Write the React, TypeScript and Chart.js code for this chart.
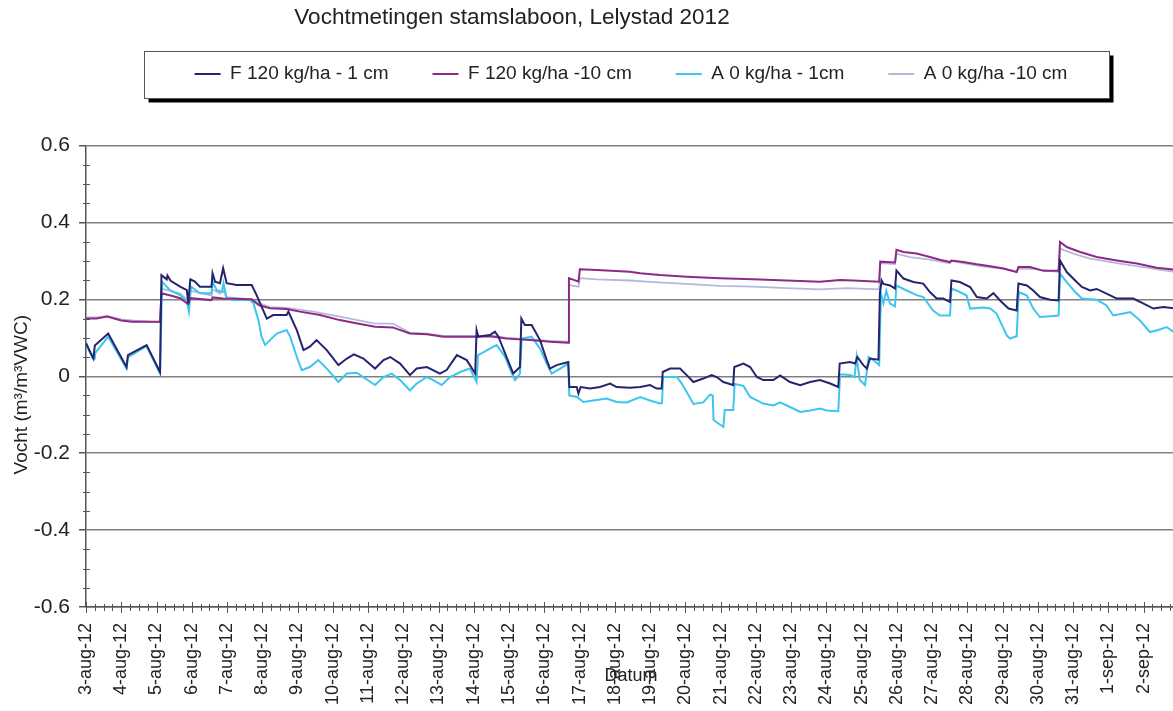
import React, { useEffect, useRef } from 'react';
import { Chart, registerables } from 'chart.js';

Chart.register(...registerables);

const FONT = "'Liberation Sans', Arial, sans-serif";

const chartTitle = 'Vochtmetingen stamslaboon, Lelystad 2012';
// trailing spaces shift the centred axis title towards the bottom, as in the original
const yTitle = 'Vocht (m\u00b3/m\u00b3VWC)\u00a0\u00a0\u00a0\u00a0\u00a0\u00a0\u00a0';
const xTitle = 'Datum';

const dateLabels = [
  '3-aug-12', '4-aug-12', '5-aug-12', '6-aug-12', '7-aug-12', '8-aug-12', '9-aug-12',
  '10-aug-12', '11-aug-12', '12-aug-12', '13-aug-12', '14-aug-12', '15-aug-12', '16-aug-12',
  '17-aug-12', '18-aug-12', '19-aug-12', '20-aug-12', '21-aug-12', '22-aug-12', '23-aug-12',
  '24-aug-12', '25-aug-12', '26-aug-12', '27-aug-12', '28-aug-12', '29-aug-12', '30-aug-12',
  '31-aug-12', '1-sep-12', '2-sep-12',
];

const seriesNames = ['F 120 kg/ha - 1 cm', 'F 120 kg/ha -10 cm', 'A 0 kg/ha - 1cm', 'A 0 kg/ha -10 cm'];
const seriesColors = ['#25256f', '#8e2a85', '#3cc6ee', '#b6b8da'];

// [day since 3-aug, value]
const f120_1cm = [
  [0, 0.085], [0.21, 0.046], [0.25, 0.080], [0.63, 0.111], [1.15, 0.024], [1.19, 0.055], [1.72, 0.081],
  [2.10, 0.011], [2.14, 0.263], [2.29, 0.252], [2.31, 0.262], [2.40, 0.248], [2.67, 0.233], [2.86, 0.224],
  [2.90, 0.190], [2.96, 0.252], [3.09, 0.246], [3.23, 0.233], [3.56, 0.233], [3.59, 0.268], [3.66, 0.246],
  [3.80, 0.242], [3.89, 0.281], [3.99, 0.242], [4.27, 0.237], [4.70, 0.237], [4.84, 0.211], [4.98, 0.181],
  [5.13, 0.150], [5.31, 0.159], [5.69, 0.159], [5.74, 0.168], [5.98, 0.120], [6.17, 0.068], [6.35, 0.077],
  [6.54, 0.094], [6.83, 0.068], [7.16, 0.029], [7.40, 0.046], [7.60, 0.057], [7.87, 0.046], [8.20, 0.020],
  [8.44, 0.042], [8.63, 0.050], [8.91, 0.033], [9.19, 0.003], [9.38, 0.020], [9.67, 0.024], [10.04, 0.007],
  [10.23, 0.016], [10.52, 0.055], [10.80, 0.042], [11.04, 0.007], [11.08, 0.120], [11.13, 0.103],
  [11.46, 0.107], [11.60, 0.116], [11.70, 0.103], [11.93, 0.050], [12.12, 0.007], [12.31, 0.024],
  [12.35, 0.150], [12.45, 0.133], [12.64, 0.133], [12.88, 0.094], [13.07, 0.042], [13.16, 0.020],
  [13.35, 0.029], [13.68, 0.037], [13.71, -0.028], [13.92, -0.028], [13.97, -0.045], [14.03, -0.028],
  [14.30, -0.032], [14.58, -0.028], [14.87, -0.019], [15.05, -0.028], [15.43, -0.030], [15.72, -0.028],
  [16.00, -0.023], [16.19, -0.032], [16.33, -0.032], [16.36, 0.011], [16.57, 0.020], [16.85, 0.020],
  [17.04, 0.003], [17.23, -0.015], [17.51, -0.006], [17.75, 0.003], [17.89, -0.002], [18.08, -0.015],
  [18.22, -0.019], [18.36, -0.023], [18.39, 0.024], [18.65, 0.033], [18.84, 0.024], [19.03, -0.002],
  [19.21, -0.010], [19.50, -0.010], [19.69, 0.002], [19.97, -0.015], [20.26, -0.023], [20.54, -0.015],
  [20.82, -0.010], [21.11, -0.019], [21.34, -0.028], [21.38, 0.033], [21.67, 0.037], [21.82, 0.033],
  [21.88, 0.050], [22.05, 0.029], [22.15, 0.020], [22.24, 0.046], [22.48, 0.043], [22.52, 0.216],
  [22.57, 0.249], [22.62, 0.240], [22.81, 0.236], [22.95, 0.228], [22.99, 0.275], [23.19, 0.254],
  [23.47, 0.245], [23.75, 0.241], [23.94, 0.219], [24.13, 0.202], [24.32, 0.202], [24.51, 0.193],
  [24.55, 0.249], [24.79, 0.245], [25.08, 0.232], [25.27, 0.206], [25.55, 0.202], [25.74, 0.216],
  [25.93, 0.197], [26.17, 0.176], [26.40, 0.171], [26.45, 0.241], [26.69, 0.236], [26.87, 0.223],
  [27.06, 0.206], [27.35, 0.199], [27.59, 0.197], [27.63, 0.301], [27.82, 0.271], [28.06, 0.249],
  [28.25, 0.232], [28.48, 0.223], [28.67, 0.227], [28.95, 0.215], [29.24, 0.202], [29.71, 0.202],
  [30.00, 0.189], [30.28, 0.176], [30.56, 0.180], [30.92, 0.176],
];

const f120_10cm = [
  [0, 0.150], [0.3, 0.150], [0.6, 0.155], [1.0, 0.145], [1.3, 0.142], [2.10, 0.142], [2.14, 0.216],
  [2.40, 0.210], [2.67, 0.203], [2.86, 0.190], [2.90, 0.188], [2.96, 0.203], [3.56, 0.198], [3.59, 0.205],
  [3.89, 0.202], [4.70, 0.200], [4.90, 0.185], [5.22, 0.177], [5.69, 0.175], [6.07, 0.168], [6.64, 0.159],
  [7.20, 0.146], [7.70, 0.137], [8.20, 0.129], [8.70, 0.127], [9.19, 0.111], [9.67, 0.109], [10.14, 0.103],
  [11.08, 0.103], [11.46, 0.104], [11.93, 0.098], [12.60, 0.094], [13.16, 0.090], [13.68, 0.087],
  [13.70, 0.255], [13.97, 0.246], [14.01, 0.278], [14.49, 0.276], [15.43, 0.272], [15.72, 0.268],
  [16.28, 0.263], [17.04, 0.259], [17.98, 0.255], [18.93, 0.252], [19.88, 0.249], [20.82, 0.246],
  [21.39, 0.250], [21.77, 0.249], [22.50, 0.246], [22.53, 0.298], [22.95, 0.296], [22.99, 0.329],
  [23.19, 0.323], [23.56, 0.319], [23.94, 0.310], [24.22, 0.303], [24.51, 0.297], [24.55, 0.301],
  [24.88, 0.297], [25.27, 0.291], [25.65, 0.286], [26.03, 0.280], [26.40, 0.271], [26.45, 0.284],
  [26.78, 0.284], [27.16, 0.274], [27.59, 0.274], [27.63, 0.349], [27.82, 0.336], [28.20, 0.323],
  [28.67, 0.310], [29.24, 0.301], [29.81, 0.293], [30.37, 0.282], [30.92, 0.277],
];

const a0_1cm = [
  [0, 0.090], [0.05, 0.075], [0.19, 0.046], [0.25, 0.046], [0.26, 0.060], [0.63, 0.103], [1.15, 0.020],
  [1.19, 0.050], [1.72, 0.078], [2.10, 0.007], [2.16, 0.246], [2.38, 0.224], [2.67, 0.211], [2.86, 0.194],
  [2.92, 0.168], [2.98, 0.233], [3.23, 0.216], [3.56, 0.216], [3.59, 0.246], [3.71, 0.224], [3.86, 0.220],
  [3.90, 0.242], [3.99, 0.203], [4.18, 0.198], [4.65, 0.198], [4.75, 0.190], [4.89, 0.146], [4.98, 0.103],
  [5.08, 0.081], [5.22, 0.094], [5.41, 0.111], [5.69, 0.120], [5.79, 0.103], [5.98, 0.050], [6.12, 0.016],
  [6.35, 0.024], [6.59, 0.042], [6.83, 0.020], [7.16, -0.015], [7.40, 0.007], [7.68, 0.009], [8.20, -0.023],
  [8.44, -0.002], [8.67, 0.007], [8.91, -0.010], [9.19, -0.037], [9.38, -0.019], [9.67, -0.002],
  [9.85, -0.010], [10.09, -0.023], [10.33, -0.002], [10.61, 0.011], [10.89, 0.020], [11.08, -0.015],
  [11.12, 0.055], [11.28, 0.063], [11.56, 0.077], [11.65, 0.081], [11.89, 0.050], [12.08, 0.007],
  [12.17, -0.010], [12.31, 0.007], [12.36, 0.098], [12.64, 0.103], [12.88, 0.072], [13.07, 0.033],
  [13.21, 0.007], [13.45, 0.020], [13.68, 0.033], [13.71, -0.050], [13.92, -0.054], [14.11, -0.067],
  [14.39, -0.063], [14.77, -0.058], [15.05, -0.067], [15.34, -0.068], [15.72, -0.054], [16.00, -0.063],
  [16.28, -0.071], [16.34, -0.070], [16.37, -0.002], [16.76, -0.002], [16.90, -0.019], [17.04, -0.041],
  [17.23, -0.072], [17.51, -0.068], [17.70, -0.048], [17.78, -0.050], [17.80, -0.114], [18.08, -0.132],
  [18.12, -0.088], [18.36, -0.088], [18.40, -0.020], [18.65, -0.025], [18.84, -0.054], [19.21, -0.071],
  [19.50, -0.076], [19.69, -0.068], [19.97, -0.080], [20.26, -0.093], [20.54, -0.089], [20.82, -0.084],
  [21.01, -0.089], [21.34, -0.091], [21.39, 0.005], [21.67, 0.003], [21.80, -0.002], [21.86, 0.050],
  [21.95, -0.010], [22.10, -0.023], [22.20, 0.050], [22.40, 0.037], [22.50, 0.029], [22.55, 0.216],
  [22.62, 0.190], [22.70, 0.222], [22.81, 0.189], [22.95, 0.182], [22.99, 0.236], [23.28, 0.223],
  [23.56, 0.211], [23.75, 0.206], [24.03, 0.171], [24.22, 0.158], [24.51, 0.158], [24.55, 0.228],
  [24.79, 0.219], [24.98, 0.210], [25.08, 0.176], [25.46, 0.179], [25.65, 0.176], [25.83, 0.163],
  [26.12, 0.106], [26.21, 0.098], [26.40, 0.104], [26.46, 0.219], [26.69, 0.210], [26.87, 0.176],
  [27.06, 0.154], [27.35, 0.156], [27.59, 0.158], [27.63, 0.267], [27.82, 0.245], [28.06, 0.219],
  [28.25, 0.202], [28.67, 0.199], [28.95, 0.184], [29.14, 0.158], [29.43, 0.163], [29.62, 0.167],
  [29.90, 0.145], [30.18, 0.115], [30.37, 0.119], [30.65, 0.128], [30.92, 0.111],
];

const a0_10cm = [
  [0, 0.153], [0.3, 0.153], [0.6, 0.157], [1.0, 0.148], [1.3, 0.145], [2.10, 0.140], [2.14, 0.228],
  [2.40, 0.222], [2.67, 0.215], [2.86, 0.200], [2.90, 0.195], [2.96, 0.222], [3.56, 0.210], [3.59, 0.226],
  [3.80, 0.215], [3.89, 0.222], [3.99, 0.206], [4.70, 0.200], [4.90, 0.190], [5.22, 0.180], [5.69, 0.178],
  [6.45, 0.168], [7.20, 0.155], [7.70, 0.146], [8.20, 0.137], [8.70, 0.137], [9.19, 0.113], [9.67, 0.111],
  [10.14, 0.105], [11.08, 0.105], [11.46, 0.106], [11.93, 0.100], [12.60, 0.096], [13.16, 0.092],
  [13.68, 0.090], [13.70, 0.237], [13.97, 0.233], [14.01, 0.255], [14.49, 0.252], [15.43, 0.249],
  [16.10, 0.245], [17.04, 0.240], [17.98, 0.235], [18.93, 0.233], [19.88, 0.229], [20.82, 0.226],
  [21.58, 0.229], [22.50, 0.226], [22.53, 0.294], [22.95, 0.292], [22.99, 0.319], [23.37, 0.310],
  [23.94, 0.303], [24.51, 0.294], [24.55, 0.300], [24.88, 0.294], [25.46, 0.285], [26.03, 0.279],
  [26.40, 0.271], [26.45, 0.279], [26.87, 0.279], [27.59, 0.271], [27.63, 0.332], [28.01, 0.319],
  [28.48, 0.306], [29.24, 0.294], [29.99, 0.284], [30.92, 0.271],
];

const seriesData = [f120_1cm, f120_10cm, a0_1cm, a0_10cm];

const xMin = 0;
const xMax = 30.92;
const yMin = -0.6;
const yMax = 0.6;
const yStep = 0.2;

const legendFramePlugin = {
  id: 'legendFrame',
  beforeDraw(chart: any) {
    const lg = chart.legend;
    if (!lg || !lg.legendHitBoxes || !lg.legendHitBoxes.length) return;
    const boxes = lg.legendHitBoxes;
    let minL = Infinity, maxR = -Infinity, cy = 0;
    boxes.forEach((b: any) => {
      minL = Math.min(minL, b.left);
      maxR = Math.max(maxR, b.left + b.width);
      cy = b.top + b.height / 2;
    });
    const left = Math.round(minL - 51) + 0.5;
    const right = Math.round(maxR + 42) + 0.5;
    const top = Math.round(cy - 23.5) + 0.5;
    const bottom = Math.round(cy + 23.5) + 0.5;
    const ctx = chart.ctx;
    ctx.save();
    ctx.fillStyle = '#000';
    ctx.fillRect(left + 4, top + 4, right - left, bottom - top);
    ctx.fillStyle = '#fff';
    ctx.fillRect(left, top, right - left, bottom - top);
    ctx.strokeStyle = '#555';
    ctx.lineWidth = 1;
    ctx.strokeRect(left, top, right - left, bottom - top);
    ctx.restore();
  },
};

const titleShiftPlugin = {
  id: 'titleShift',
  afterLayout(chart: any) {
    const t = chart.titleBlock;
    if (t) {
      t.left = 0;
      t.right = 1024;
    }
  },
};

const minorTicksPlugin = {
  id: 'minorTicks',
  afterDraw(chart: any) {
    const { ctx, chartArea, scales } = chart;
    const xs = scales.x;
    const ys = scales.y;
    ctx.save();
    ctx.strokeStyle = '#555';
    ctx.lineWidth = 1;
    ctx.beginPath();
    const yb = chartArea.bottom;
    for (let i = 0; i <= Math.floor(xMax * 4); i++) {
      const v = i / 4;
      const px = Math.round(xs.getPixelForValue(v)) + 0.5;
      const major = i % 4 === 0;
      ctx.moveTo(px, yb - (major ? 5 : 3));
      ctx.lineTo(px, yb + (major ? 6 : 4));
    }
    const xl = chartArea.left;
    for (let i = 0; i <= 24; i++) {
      if (i % 4 === 0) continue;
      const v = yMin + i * 0.05;
      const py = Math.round(ys.getPixelForValue(v)) + 0.5;
      ctx.moveTo(xl - 3, py);
      ctx.lineTo(xl + 4, py);
    }
    ctx.stroke();
    ctx.restore();
  },
};

export default function App() {
  const canvasRef = useRef<HTMLCanvasElement | null>(null);

  useEffect(() => {
    if (!canvasRef.current) return;
    const datasets = seriesData.map((series, i) => ({
      label: seriesNames[i],
      data: series.map(([d, v]) => ({ x: d, y: v })),
      borderColor: seriesColors[i],
      backgroundColor: seriesColors[i],
      borderWidth: i === 3 ? 1.8 : 2,
      pointRadius: 0,
      tension: 0,
      fill: false,
    }));

    const chart = new Chart(canvasRef.current, {
      type: 'line',
      data: { datasets },
      plugins: [legendFramePlugin, titleShiftPlugin, minorTicksPlugin],
      options: {
        responsive: false,
        animation: false,
        devicePixelRatio: 1,
        layout: { padding: 0 },
        plugins: {
          title: {
            display: true,
            text: chartTitle,
            color: '#222',
            font: { family: FONT, size: 22.5, weight: 'normal', lineHeight: 0.2 },
            padding: { top: 16, bottom: 0 },
          },
          subtitle: {
            display: true,
            text: '',
            position: 'top',
            weight: 500,
            font: { family: FONT, size: 52, lineHeight: 1 },
            padding: { top: 0, bottom: 0 },
          },
          legend: {
            display: true,
            position: 'top',
            fullSize: false,
            labels: {
              boxWidth: 26,
              boxHeight: 2,
              padding: 44,
              color: '#222',
              font: { family: FONT, size: 19 },
              generateLabels: (c: any) =>
                Chart.defaults.plugins.legend.labels
                  .generateLabels(c)
                  .map((l: any) => ({ ...l, lineWidth: 0 })),
            },
          },
          tooltip: { enabled: false },
        },
        scales: {
          x: {
            type: 'linear',
            min: xMin,
            max: xMax,
            afterFit: (s: any) => {
              s.height = 104;
            },
            grid: { display: false },
            border: { display: true, color: '#555', width: 1.5 },
            ticks: {
              stepSize: 1,
              autoSkip: false,
              includeBounds: false,
              maxRotation: 90,
              minRotation: 90,
              padding: 8,
              color: '#222',
              font: { family: FONT, size: 18 },
              callback: (v: any) => dateLabels[Math.round(v)] ?? '',
            },
            title: {
              display: true,
              text: xTitle,
              color: '#222',
              font: { family: FONT, size: 18 },
              padding: { top: 0, bottom: 24 },
            },
          },
          y: {
            type: 'linear',
            min: yMin,
            max: yMax,
            afterFit: (s: any) => {
              s.width = 86;
            },
            grid: {
              color: '#808080',
              lineWidth: 1.5,
              drawTicks: true,
              tickLength: 7,
              tickColor: '#555',
            },
            border: { display: true, color: '#555', width: 1.5 },
            ticks: {
              stepSize: yStep,
              padding: 9,
              color: '#222',
              font: { family: FONT, size: 21 },
              callback: (v: any) => String(Number(Number(v).toFixed(1))),
            },
            title: {
              display: true,
              text: yTitle,
              color: '#222',
              font: { family: FONT, size: 19 },
              padding: { top: 10, bottom: 0 },
            },
          },
        },
      } as any,
    });
    return () => chart.destroy();
  }, []);

  return (
    <div
      style={{
        position: 'fixed',
        left: 0,
        top: 0,
        width: 1173,
        height: 711,
        overflow: 'hidden',
        background: '#fff',
      }}
    >
      <canvas ref={canvasRef} width={1176} height={711} style={{ display: 'block' }} />
    </div>
  );
}
